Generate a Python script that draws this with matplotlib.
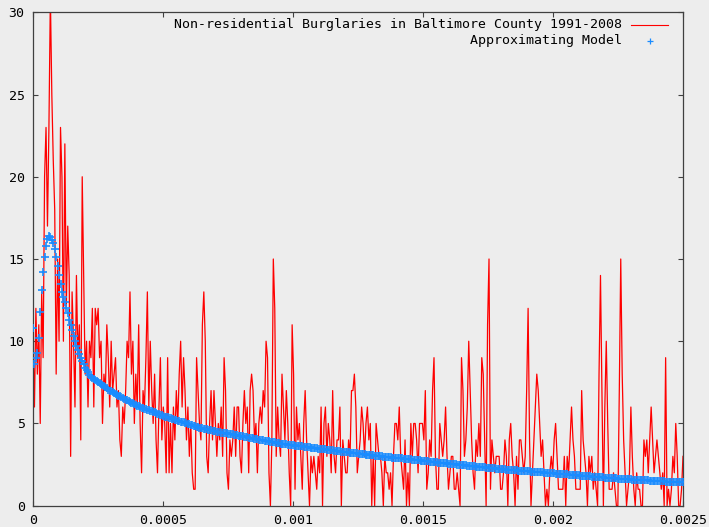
import numpy as np
import matplotlib.pyplot as plt

# weekly counts (integer values)
counts_a = [10, 6, 12, 8, 11, 5, 13, 9, 20, 23, 17, 23, 31, 25, 21, 18, 8, 15, 10, 23,
            20, 10, 22, 12, 17, 14, 3, 13, 10, 6, 14, 9, 11, 4, 20, 14, 8, 10, 6, 10,
            9, 12, 6, 12, 11, 12, 9, 10, 5, 8, 7, 11, 9, 6, 10, 7, 8, 9, 6, 7,
            4, 3, 6, 5]
counts_b = [7, 10, 9, 13, 8, 10, 5, 8, 6, 11, 5, 2, 7, 6, 9, 13, 6, 10, 7, 5,
            8, 4, 2, 6, 9, 4, 6, 5, 2, 9, 2, 5, 2, 6, 4, 7, 5, 8, 10, 6,
            9, 7, 4, 6, 3, 5, 2, 1, 1, 9, 7, 5, 4, 11, 13, 10, 3, 2, 5, 7,
            4, 7, 5, 3]
counts_c = [5, 4, 6, 3, 9, 7, 2, 1, 4, 3, 4, 6, 3, 6, 6, 3, 2, 5, 7, 5,
            6, 2, 7, 8, 7, 4, 5, 2, 5, 6, 5, 7, 6, 10, 9, 2, 0, 4, 15, 12,
            3, 6, 4, 3, 8, 6, 4, 7, 5, 2, 0, 11, 8, 1, 6, 4, 5, 3, 1, 5,
            7, 4, 2, 0]
counts_d = [3, 2, 3, 2, 1, 3, 2, 6, 0, 5, 6, 3, 5, 4, 2, 7, 3, 2, 4, 4,
            6, 0, 4, 3, 2, 2, 4, 3, 7, 7, 8, 6, 2, 3, 4, 6, 5, 3, 5, 6,
            4, 5, 0, 3, 0, 5, 4, 3, 3, 2, 0, 3, 2, 2, 1, 2, 0, 3, 5, 5,
            4, 6, 3, 2, 1]
counts_e = [4, 0, 2, 0, 5, 3, 5, 5, 4, 2, 5, 5, 5, 4, 7, 1, 2, 4, 3, 7,
            9, 3, 1, 1, 5, 4, 3, 4, 6, 3, 1, 2, 3, 3, 1, 1, 2, 1, 0, 9,
            7, 3, 4, 6, 10, 7, 4, 2, 1, 4, 3, 5, 3, 9, 8, 4, 0, 11, 15, 1,
            4, 3, 2, 3]
counts_f = [3, 3, 1, 1, 2, 4, 3, 0, 4, 5, 3, 2, 0, 3, 1, 4, 4, 3, 2, 3,
            7, 12, 4, 0, 2, 4, 6, 8, 7, 5, 3, 4, 2, 0, 1, 0, 2, 3, 2, 4,
            5, 3, 1, 1, 1, 1, 3, 0, 3, 2, 4, 6, 4, 3, 1, 1, 1, 1, 7, 4,
            3, 2, 0, 3]
counts_g = [2, 3, 1, 2, 1, 0, 8, 14, 7, 0, 6, 10, 5, 1, 1, 1, 2, 1, 0, 0,
            7, 15, 8, 4, 2, 0, 1, 2, 6, 3, 1, 0, 2, 1, 1, 0, 0, 4, 3, 4,
            2, 4, 6, 4, 2, 3, 4, 3, 2, 1, 2, 0, 9, 0, 1, 0, 1, 3, 2, 5,
            3, 0, 0, 1, 3]

# approximating model, one value per sample
model_head = [10.8, 8.6, 9.0, 9.3, 10.2, 11.8, 13.1, 14.2, 15.1, 15.8,
              16.2, 16.4, 16.35, 16.15, 15.95, 15.6, 15.1, 14.6, 14.0, 13.5,
              13.0, 12.7, 12.4, 12.0, 11.7, 11.3, 11.0, 10.7, 10.3, 10.0,
              9.7, 9.45, 9.2, 9.0, 8.8, 8.6, 8.4, 8.25, 8.1, 7.95,
              7.85, 7.78, 7.72, 7.65, 7.58, 7.52, 7.45, 7.39, 7.32, 7.26,
              7.19, 7.13, 7.06, 7.00, 6.95, 6.90, 6.85, 6.80, 6.75, 6.70,
              6.65, 6.60, 6.55, 6.50, 6.45, 6.41, 6.36, 6.32, 6.27, 6.23,
              6.18, 6.14, 6.09, 6.05, 6.00, 5.97, 5.93, 5.90, 5.87, 5.83,
              5.80, 5.77, 5.73, 5.70, 5.67, 5.63, 5.60, 5.56, 5.52, 5.49,
              5.45, 5.42, 5.39, 5.37, 5.34, 5.31, 5.28, 5.25, 5.23, 5.20,
              5.17, 5.14, 5.11, 5.08, 5.06, 5.03, 5.00, 4.97, 4.94, 4.92,
              4.89, 4.86, 4.83, 4.81, 4.78, 4.75, 4.73, 4.71, 4.69, 4.67,
              4.65, 4.62, 4.60, 4.58, 4.56, 4.54, 4.52, 4.50, 4.48, 4.47,
              4.45, 4.44, 4.42, 4.41, 4.39, 4.37, 4.36, 4.34, 4.33, 4.31,
              4.30, 4.28, 4.26, 4.24, 4.23, 4.21, 4.19, 4.17, 4.16, 4.14,
              4.12, 4.10, 4.09, 4.07, 4.06, 4.04, 4.02, 4.01, 3.99, 3.98,
              3.96, 3.94, 3.93, 3.91, 3.89, 3.88, 3.86, 3.85, 3.83, 3.81,
              3.80, 3.78, 3.77, 3.75, 3.74, 3.73, 3.72, 3.70, 3.69, 3.68,
              3.67, 3.66, 3.65, 3.64, 3.62, 3.61, 3.60, 3.59, 3.58, 3.57,
              3.55, 3.54, 3.53, 3.52, 3.51, 3.50, 3.49, 3.47, 3.46, 3.45,
              3.44, 3.43, 3.42, 3.41, 3.39, 3.38, 3.37, 3.36, 3.35, 3.34,
              3.33, 3.31, 3.30, 3.29, 3.28]
model_tail = [3.27, 3.26, 3.25, 3.24, 3.23, 3.22, 3.21, 3.20, 3.19, 3.18,
              3.17, 3.16, 3.14, 3.13, 3.12, 3.11, 3.10, 3.09, 3.08, 3.07,
              3.06, 3.05, 3.04, 3.03, 3.02, 3.01, 3.00, 2.99, 2.98, 2.97,
              2.96, 2.95, 2.94, 2.93, 2.93, 2.92, 2.91, 2.90, 2.89, 2.88,
              2.87, 2.86, 2.85, 2.84, 2.83, 2.82, 2.81, 2.80, 2.79, 2.78,
              2.77, 2.76, 2.75, 2.74, 2.73, 2.72, 2.71, 2.70, 2.69, 2.68,
              2.67, 2.66, 2.65, 2.64, 2.63, 2.62, 2.61, 2.60, 2.60, 2.59,
              2.58, 2.57, 2.56, 2.55, 2.54, 2.53, 2.52, 2.51, 2.50, 2.49,
              2.48, 2.47, 2.46, 2.46, 2.45, 2.44, 2.43, 2.42, 2.41, 2.40,
              2.39, 2.38, 2.38, 2.37, 2.36, 2.35, 2.34, 2.33, 2.32, 2.31,
              2.30, 2.29, 2.29, 2.28, 2.27, 2.26, 2.25, 2.24, 2.23, 2.22,
              2.22, 2.21, 2.20, 2.19, 2.19, 2.18, 2.17, 2.16, 2.16, 2.15,
              2.14, 2.13, 2.13, 2.12, 2.11, 2.10, 2.10, 2.09, 2.08, 2.07,
              2.07, 2.06, 2.05, 2.04, 2.04, 2.03, 2.02, 2.02, 2.01, 2.00,
              2.00, 1.99, 1.98, 1.97, 1.97, 1.96, 1.95, 1.95, 1.94, 1.93,
              1.93, 1.92, 1.91, 1.91, 1.90, 1.89, 1.88, 1.88, 1.87, 1.86,
              1.85, 1.85, 1.84, 1.83, 1.82, 1.82, 1.81, 1.80, 1.79, 1.79,
              1.78, 1.77, 1.76, 1.76, 1.75, 1.74, 1.74, 1.73, 1.72, 1.72,
              1.71, 1.70, 1.70, 1.69, 1.68, 1.68, 1.67, 1.66, 1.66, 1.65,
              1.64, 1.64, 1.63, 1.62, 1.62, 1.61, 1.61, 1.60, 1.60, 1.59,
              1.59, 1.58, 1.58, 1.57, 1.57, 1.56, 1.56, 1.55, 1.55, 1.54,
              1.54, 1.53, 1.53, 1.52, 1.52, 1.51, 1.50, 1.50, 1.49, 1.49,
              1.48, 1.48, 1.47, 1.47, 1.46, 1.46, 1.45, 1.45, 1.45, 1.44,
              1.44, 1.43, 1.43, 1.42, 1.42]

counts = np.array(counts_a + counts_b + counts_c + counts_d + counts_e + counts_f + counts_g)
model = np.array(model_head + model_tail)

x_max = 0.0025
freq = np.linspace(0, x_max, len(counts))

x_ticks = [0, 0.0005, 0.001, 0.0015, 0.002, 0.0025]
x_tick_labels = ['0', '0.0005', '0.001', '0.0015', '0.002', '0.0025']
y_ticks = [0, 5, 10, 15, 20, 25, 30]

label_data = 'Non-residential Burglaries in Baltimore County 1991-2008'
label_model = 'Approximating Model'

bg = '#ededed'
blue = '#1a8cff'
font = 'DejaVu Sans Mono'

fig = plt.figure(figsize=(7.09, 5.27), dpi=100, facecolor=bg)
ax = fig.add_axes([33 / 709, 21.3 / 527, 650 / 709, 493.4 / 527], facecolor=bg)

ax.plot(freq, counts, color='red', lw=0.9, zorder=2)
ax.plot(freq, model, ls='none', marker='+', ms=6, mew=1.2, color=blue, zorder=3)

ax.set_xlim(0, x_max)
ax.set_ylim(0, 30)
ax.set_xticks(x_ticks)
ax.set_xticklabels(x_tick_labels)
ax.set_yticks(y_ticks)
ax.tick_params(direction='in', length=3.5, width=0.8, color='#404040',
               top=True, right=True, labelsize=9.5, pad=6)
for lab in ax.get_xticklabels() + ax.get_yticklabels():
    lab.set_family(font)
for s in ax.spines.values():
    s.set_color('#404040')
    s.set_linewidth(0.9)

# gnuplot style key: right-justified text, sample to the right
key_x = 589 / 650
ax.text(key_x, 1 - 12.5 / 493.4, label_data, transform=ax.transAxes, ha='right', va='center',
        family=font, fontsize=9.5)
ax.text(key_x, 1 - 28.5 / 493.4, label_model, transform=ax.transAxes, ha='right', va='center',
        family=font, fontsize=9.5)
ax.plot([598 / 650, 635 / 650], [1 - 12.5 / 493.4] * 2, transform=ax.transAxes,
        color='red', lw=0.8, clip_on=False)
ax.plot([617 / 650], [1 - 28.5 / 493.4], transform=ax.transAxes, marker='+', ms=5,
        mew=0.9, color=blue, ls='none', clip_on=False)

fig.savefig('out.png', dpi=100, facecolor=bg)
